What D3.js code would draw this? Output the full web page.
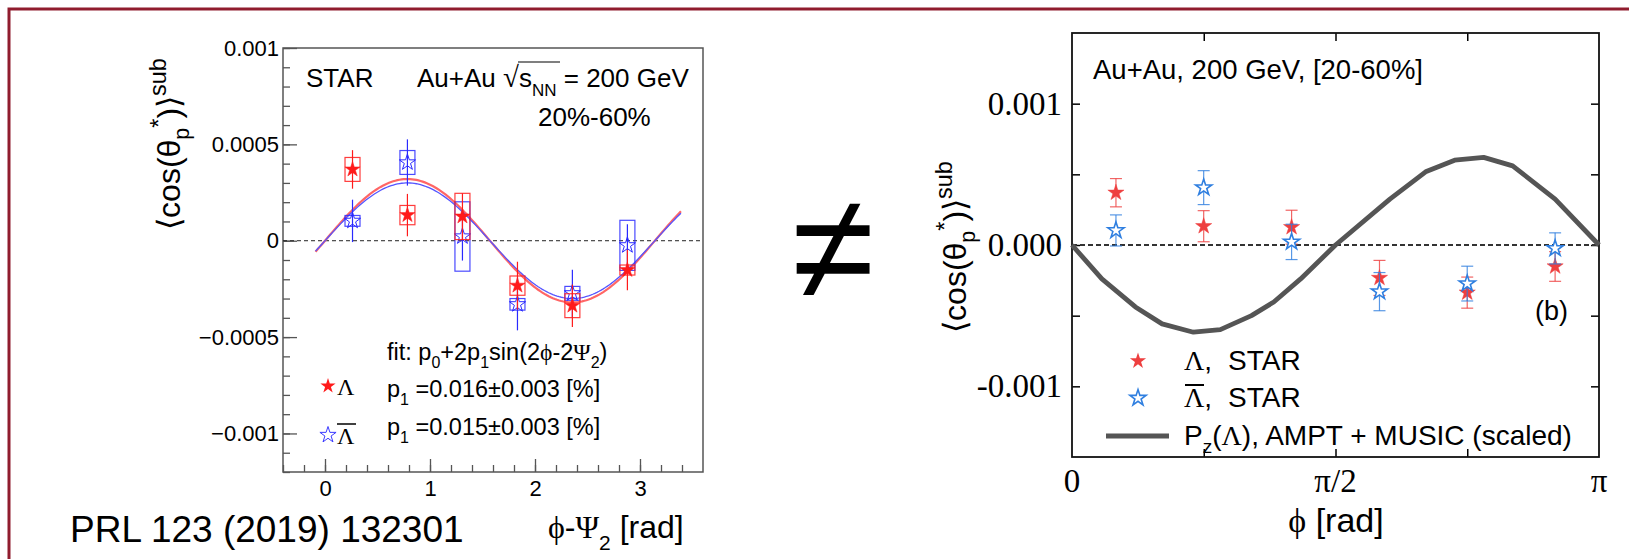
<!DOCTYPE html>
<html>
<head>
<meta charset="utf-8">
<script src="https://cdn.jsdelivr.net/npm/d3@7"></script>
<style>
  body { margin: 0; background: #fff; }
  svg { display: block; }
  text { font-family: "Liberation Sans", Arial, sans-serif; fill: #000; }
  .serif { font-family: "Liberation Serif", "Times New Roman", serif; }
</style>
</head>
<body>
<div id="chart"></div>
<script>
// ---- data ----
// bin centres in phi - Psi2 (rad)
var binCenters = [0.262, 0.785, 1.309, 1.833, 2.356, 2.880];
// Lambda
var lambdaVals = [0.00037, 0.000133, 0.000126, -0.000233, -0.000337, -0.000152];
var lambdaStat = [0.000100, 0.000110, 0.000120, 0.000124, 0.000110, 0.000105];
var lambdaSys  = [0.000062, 0.000050, 0.000120, 0.000050, 0.000062, 0.000026];
// anti-Lambda
var antiVals = [0.000103, 0.000406, 0.000022, -0.000330, -0.000273, -0.000024];
var antiStat = [0.000110, 0.000120, 0.000125, 0.000135, 0.000123, 0.000110];
var antiSys  = [0.000028, 0.000062, 0.000180, 0.000030, 0.000036, 0.000130];
// fit p0 + 2 p1 sin(2phi - 2Psi2), [Lambda, anti-Lambda]
var fitP0 = [0, 0];
var fitP1 = [0.00016, 0.00015];
var fitRange = [-0.09, 3.40];
// AMPT + MUSIC Pz (scaled)
var amptPhi = [0, 0.178, 0.378, 0.537, 0.724, 0.884, 1.070, 1.203, 1.363, 1.571, 1.895, 2.108, 2.281, 2.454, 2.627, 2.880, 3.1416];
var amptVal = [0, -0.00024, -0.000438, -0.000558, -0.000617, -0.000599, -0.0005, -0.000403, -0.00024, 0, 0.000325, 0.000518, 0.0006, 0.00062, 0.00056, 0.000325, 0];

// ticks
var leftYMajor = [-0.001, -0.0005, 0, 0.0005, 0.001];
var leftYLabels = ["\u22120.001", "\u22120.0005", "0", "0.0005", "0.001"];
var leftXMajor = [0, 1, 2, 3];
var leftXLabels = ["0", "1", "2", "3"];
var rightYMajor = [-0.001, 0, 0.001];
var rightYLabels = ["-0.001", "0.000", "0.001"];
var rightYMinor = [-0.0005, 0.0005];
var rightXMajor = [0, Math.PI / 2, Math.PI];
var rightXLabels = ["0", "\u03c0/2", "\u03c0"];
var rightXMinor = [Math.PI / 4, 3 * Math.PI / 4];

var svgWidth = 1629, svgHeight = 559;

var svg = d3.select("#chart").append("svg")
    .attr("width", svgWidth)
    .attr("height", svgHeight);

svg.append("rect").attr("width", svgWidth).attr("height", svgHeight).attr("fill", "#fff");

// slide border
svg.append("rect")
    .attr("x", 9).attr("y", 9)
    .attr("width", 1700).attr("height", 700)
    .attr("fill", "none")
    .attr("stroke", "#901c2e")
    .attr("stroke-width", 3);

function starPath(r) {
  return d3.symbol().type(d3.symbolStar).size(r * r / 0.8908130915292852)();
}

// ================= left panel (STAR PRL) =================
var L = {left: 283, top: 48, right: 703, bottom: 472};
var xL = d3.scaleLinear().domain([-0.4, 3.6]).range([L.left, L.right]);
var yL = d3.scaleLinear().domain([-0.0012, 0.001]).range([L.bottom, L.top]);

var gL = svg.append("g");

// minor + major ticks, inward
gL.append("g")
    .attr("transform", `translate(${L.left},0)`)
    .call(d3.axisLeft(yL).tickValues(d3.range(-12, 11).map(d => d * 0.0001)).tickSize(-7).tickFormat(""))
    .call(g => g.select(".domain").remove())
    .call(g => g.selectAll("line").attr("stroke", "#555").attr("stroke-width", 1.3));
gL.append("g")
    .attr("transform", `translate(${L.left},0)`)
    .call(d3.axisLeft(yL).tickValues(leftYMajor).tickSize(-14).tickPadding(4)
        .tickFormat((d, i) => leftYLabels[i]))
    .call(g => g.select(".domain").remove())
    .call(g => g.selectAll("line").attr("stroke", "#555").attr("stroke-width", 1.3))
    .call(g => g.selectAll("text").attr("font-size", 22).attr("font-family", "Liberation Sans, Arial, sans-serif").attr("fill", "#000"));

gL.append("g")
    .attr("transform", `translate(0,${L.bottom})`)
    .call(d3.axisBottom(xL).tickValues(d3.range(-2, 18).map(d => d * 0.2)).tickSize(-7).tickFormat(""))
    .call(g => g.select(".domain").remove())
    .call(g => g.selectAll("line").attr("stroke", "#555").attr("stroke-width", 1.3));
gL.append("g")
    .attr("transform", `translate(0,${L.bottom})`)
    .call(d3.axisBottom(xL).tickValues(leftXMajor).tickSize(-13).tickPadding(8)
        .tickFormat((d, i) => leftXLabels[i]))
    .call(g => g.select(".domain").remove())
    .call(g => g.selectAll("line").attr("stroke", "#555").attr("stroke-width", 1.3))
    .call(g => g.selectAll("text").attr("font-size", 22).attr("font-family", "Liberation Sans, Arial, sans-serif").attr("fill", "#000"));

// frame
gL.append("rect")
    .attr("x", L.left).attr("y", L.top)
    .attr("width", L.right - L.left).attr("height", L.bottom - L.top)
    .attr("fill", "none").attr("stroke", "#555").attr("stroke-width", 1.5);

// zero line
gL.append("line")
    .attr("x1", L.left).attr("x2", L.right)
    .attr("y1", yL(0)).attr("y2", yL(0))
    .attr("stroke", "#222").attr("stroke-width", 1).attr("stroke-dasharray", "4,3");

// fit curves
var fitColors = ["#ff6666", "#5555ff"];
var fitWidths = [2.2, 1.3];
[0, 1].forEach(function(k) {
  var xs = d3.range(fitRange[0], fitRange[1] + 0.001, 0.02);
  var line = d3.line()
      .x(d => xL(d))
      .y(d => yL(fitP0[k] + 2 * fitP1[k] * Math.sin(2 * d)));
  gL.append("path")
      .attr("d", line(xs))
      .attr("fill", "none")
      .attr("stroke", fitColors[k])
      .attr("stroke-width", fitWidths[k]);
});

function drawLeftSeries(vals, stat, sys, color, filled) {
  var pts = binCenters.map((x, i) => ({x: x, y: vals[i], st: stat[i], sy: sys[i]}));
  var g = gL.append("g");
  g.selectAll("rect.sys").data(pts).enter().append("rect")
      .attr("x", d => xL(d.x) - 7.5)
      .attr("y", d => yL(d.y + d.sy))
      .attr("width", 15)
      .attr("height", d => yL(d.y - d.sy) - yL(d.y + d.sy))
      .attr("fill", "none").attr("stroke", color).attr("stroke-width", 1.2).attr("opacity", 0.85);
  g.selectAll("line.stat").data(pts).enter().append("line")
      .attr("x1", d => xL(d.x)).attr("x2", d => xL(d.x))
      .attr("y1", d => yL(d.y + d.st)).attr("y2", d => yL(d.y - d.st))
      .attr("stroke", color).attr("stroke-width", 1.2);
  g.selectAll("path.mk").data(pts).enter().append("path")
      .attr("transform", d => `translate(${xL(d.x)},${yL(d.y)})`)
      .attr("d", starPath(filled ? 8 : 8.5))
      .attr("fill", filled ? color : "none")
      .attr("stroke", color)
      .attr("stroke-width", filled ? 0.5 : 1);
}
drawLeftSeries(antiVals, antiStat, antiSys, "#2a2aff", false);
drawLeftSeries(lambdaVals, lambdaStat, lambdaSys, "#ff1a1a", true);

// left panel texts
gL.append("text").attr("x", 306).attr("y", 87).attr("font-size", 26).text("STAR");
var t1 = gL.append("text").attr("x", 417).attr("y", 87).attr("font-size", 26);
t1.append("tspan").text("Au+Au ");
t1.append("tspan").attr("font-family", "DejaVu Sans").attr("font-size", 29).attr("font-weight", 200).text("\u221a");
t1.append("tspan").text("s");
t1.append("tspan").attr("font-size", 17).attr("dy", 9).text("NN");
t1.append("tspan").attr("dy", -9).text(" = 200 GeV");
// overbar of sqrt
gL.append("line").attr("x1", 518).attr("x2", 560).attr("y1", 62).attr("y2", 62).attr("stroke", "#000").attr("stroke-width", 1.2);
gL.append("text").attr("x", 538).attr("y", 126).attr("font-size", 26).text("20%-60%");

var ft = gL.append("text").attr("x", 387).attr("y", 360).attr("font-size", 23.5);
ft.append("tspan").text("fit: p");
ft.append("tspan").attr("font-size", 16).attr("dy", 8).text("0");
ft.append("tspan").attr("dy", -8).text("+2p");
ft.append("tspan").attr("font-size", 16).attr("dy", 8).text("1");
ft.append("tspan").attr("dy", -8).text("sin(2");
ft.append("tspan").attr("class", "serif").text("\u03d5");
ft.append("tspan").text("-2");
ft.append("tspan").attr("class", "serif").text("\u03a8");
ft.append("tspan").attr("font-size", 16).attr("dy", 8).text("2");
ft.append("tspan").attr("dy", -8).text(")");

var p1Texts = ["=0.016\u00b10.003 [%]", "=0.015\u00b10.003 [%]"];
[397, 435].forEach(function(y, i) {
  var t = gL.append("text").attr("x", 387).attr("y", y).attr("font-size", 23.5);
  t.append("tspan").text("p");
  t.append("tspan").attr("font-size", 16).attr("dy", 8).text("1");
  t.append("tspan").attr("dy", -8).text(" " + p1Texts[i]);
});

// legend markers
gL.append("path").attr("transform", "translate(328,386)").attr("d", starPath(8)).attr("fill", "#ff1a1a");
gL.append("text").attr("class", "serif").attr("x", 337).attr("y", 395).attr("font-size", 24).text("\u039b");
gL.append("path").attr("transform", "translate(328,435)").attr("d", starPath(8.5))
    .attr("fill", "none").attr("stroke", "#3a3aff").attr("stroke-width", 1);
gL.append("text").attr("class", "serif").attr("x", 337).attr("y", 444).attr("font-size", 24).text("\u039b");
gL.append("line").attr("x1", 337).attr("x2", 356).attr("y1", 424).attr("y2", 424).attr("stroke", "#000").attr("stroke-width", 1.5);

// y title helper: <cos(theta_p*)>^sub, rotated
function yTitle(g, x, y, size) {
  var t = g.append("text")
      .attr("transform", `translate(${x},${y}) rotate(-90)`)
      .attr("text-anchor", "middle")
      .attr("font-size", size);
  var s = size / 30;
  t.append("tspan").attr("font-family", "DejaVu Sans").attr("font-weight", 200).text("\u27e8");
  t.append("tspan").text("cos(\u03b8");
  t.append("tspan").attr("font-size", 20 * s).attr("dy", 8 * s).text("p");
  t.append("tspan").attr("font-size", 22 * s).attr("dy", -20 * s).text("*");
  t.append("tspan").attr("dy", 12 * s).text(")");
  t.append("tspan").attr("font-family", "DejaVu Sans").attr("font-weight", 200).text("\u27e9");
  t.append("tspan").attr("font-size", 22 * s).attr("dy", -13 * s).text("sub");
}
yTitle(gL, 180, 144, 32);

// left x title
var xt = gL.append("text").attr("x", 548).attr("y", 538).attr("font-size", 32);
xt.append("tspan").attr("class", "serif").text("\u03d5");
xt.append("tspan").text("-");
xt.append("tspan").attr("class", "serif").text("\u03a8");
xt.append("tspan").attr("font-size", 21).attr("dy", 12).text("2");
xt.append("tspan").attr("dy", -12).text(" [rad]");

// reference
svg.append("text").attr("x", 70).attr("y", 542)
    .attr("font-family", "Open Sans, Noto Sans, sans-serif")
    .attr("font-size", 37).text("PRL 123 (2019) 132301");

// not-equal sign
svg.append("text").attr("x", 833).attr("y", 299)
    .attr("text-anchor", "middle").attr("font-size", 150).text("\u2260");

// ================= right panel (model) =================
var R = {left: 1072, top: 33, right: 1599, bottom: 457};
var xR = d3.scaleLinear().domain([0, Math.PI]).range([R.left, R.right]);
var yR = d3.scaleLinear().domain([-0.0015, 0.0015]).range([R.bottom, R.top]);
var gR = svg.append("g");

var rTickY = rightYMajor.concat(rightYMinor);
var rTickX = rightXMinor.concat([Math.PI / 2]);
gR.append("g").attr("transform", `translate(${R.left},0)`)
    .call(d3.axisLeft(yR).tickValues(rTickY).tickSize(-8).tickFormat(""))
    .call(g => g.select(".domain").remove());
gR.append("g").attr("transform", `translate(${R.right},0)`)
    .call(d3.axisRight(yR).tickValues(rTickY).tickSize(-8).tickFormat(""))
    .call(g => g.select(".domain").remove());
gR.append("g").attr("transform", `translate(0,${R.bottom})`)
    .call(d3.axisBottom(xR).tickValues(rTickX).tickSize(-8).tickFormat(""))
    .call(g => g.select(".domain").remove());
gR.append("g").attr("transform", `translate(0,${R.top})`)
    .call(d3.axisTop(xR).tickValues(rTickX).tickSize(-8).tickFormat(""))
    .call(g => g.select(".domain").remove());
gR.selectAll(".tick line").attr("stroke", "#000").attr("stroke-width", 1.5);

gR.append("rect")
    .attr("x", R.left).attr("y", R.top)
    .attr("width", R.right - R.left).attr("height", R.bottom - R.top)
    .attr("fill", "none").attr("stroke", "#111").attr("stroke-width", 1.8);

// tick labels (Times)
gR.selectAll("text.ylab").data(rightYMajor).enter().append("text")
    .attr("class", "serif")
    .attr("x", 1062).attr("y", d => yR(d) + 11)
    .attr("text-anchor", "end").attr("font-size", 33)
    .text((d, i) => rightYLabels[i]);
gR.selectAll("text.xlab").data(rightXMajor).enter().append("text")
    .attr("class", "serif")
    .attr("x", d => xR(d)).attr("y", 492)
    .attr("text-anchor", "middle").attr("font-size", 33)
    .text((d, i) => rightXLabels[i]);

// zero line
gR.append("line")
    .attr("x1", R.left).attr("x2", R.right)
    .attr("y1", yR(0)).attr("y2", yR(0))
    .attr("stroke", "#333").attr("stroke-width", 2).attr("stroke-dasharray", "5,3");

// AMPT curve
var amptLine = d3.line().x(d => xR(d[0])).y(d => yR(d[1]));
gR.append("path")
    .attr("d", amptLine(amptPhi.map((p, i) => [p, amptVal[i]])))
    .attr("fill", "none").attr("stroke", "#555").attr("stroke-width", 4.8)
    .attr("stroke-linejoin", "round");

function drawRightSeries(vals, stat, color, filled) {
  var pts = binCenters.map((x, i) => ({x: x, y: vals[i], st: stat[i]}));
  var g = gR.append("g");
  g.selectAll("line.v").data(pts).enter().append("line")
      .attr("x1", d => xR(d.x)).attr("x2", d => xR(d.x))
      .attr("y1", d => yR(d.y + d.st)).attr("y2", d => yR(d.y - d.st))
      .attr("stroke", color).attr("stroke-width", 1.2).attr("opacity", 0.8);
  [1, -1].forEach(function(s) {
    g.selectAll("line.c" + s).data(pts).enter().append("line")
        .attr("x1", d => xR(d.x) - 6).attr("x2", d => xR(d.x) + 6)
        .attr("y1", d => yR(d.y + s * d.st)).attr("y2", d => yR(d.y + s * d.st))
        .attr("stroke", color).attr("stroke-width", 1.2).attr("opacity", 0.8);
  });
  g.selectAll("path.mk").data(pts).enter().append("path")
      .attr("transform", d => `translate(${xR(d.x)},${yR(d.y)})`)
      .attr("d", starPath(8.5))
      .attr("fill", filled ? color : "#fff")
      .attr("stroke", color)
      .attr("stroke-width", filled ? 0.5 : 1.6);
}
drawRightSeries(lambdaVals, lambdaStat, "#ee3f3f", true);
drawRightSeries(antiVals, antiStat, "#2f7fe0", false);

// right panel texts
gR.append("text").attr("x", 1093).attr("y", 79)
    .attr("font-size", 27.5).text("Au+Au, 200 GeV, [20-60%]");
gR.append("text").attr("x", 1535).attr("y", 320)
    .attr("font-size", 27).text("(b)");

// legend
gR.append("path").attr("transform", "translate(1138,361)").attr("d", starPath(8.5)).attr("fill", "#ee3f3f");
gR.append("path").attr("transform", "translate(1138,398)").attr("d", starPath(8.5))
    .attr("fill", "#fff").attr("stroke", "#2f7fe0").attr("stroke-width", 1.6);
gR.append("line").attr("x1", 1106).attr("x2", 1169).attr("y1", 436).attr("y2", 436)
    .attr("stroke", "#555").attr("stroke-width", 4.8);

[370, 407].forEach(function(y) {
  var lg = gR.append("text").attr("x", 1184).attr("y", y).attr("font-size", 28);
  lg.append("tspan").attr("class", "serif").text("\u039b");
  lg.append("tspan").text(",");
  lg.append("tspan").attr("x", 1228).text("STAR");
});
gR.append("line").attr("x1", 1185).attr("x2", 1204).attr("y1", 385).attr("y2", 385)
    .attr("stroke", "#000").attr("stroke-width", 2);
var lg3 = gR.append("text").attr("x", 1184).attr("y", 445).attr("font-size", 28);
lg3.append("tspan").text("P");
lg3.append("tspan").attr("font-size", 19).attr("dy", 8).text("z");
lg3.append("tspan").attr("dy", -8).text("(");
lg3.append("tspan").attr("class", "serif").text("\u039b");
lg3.append("tspan").text("), AMPT + MUSIC (scaled)");

// right y title
yTitle(gR, 966, 247, 32);

// right x title
var xt2 = gR.append("text").attr("x", 1336).attr("y", 532)
    .attr("text-anchor", "middle").attr("font-size", 34);
xt2.append("tspan").attr("class", "serif").text("\u03d5");
xt2.append("tspan").text(" [rad]");
</script>
</body>
</html>
